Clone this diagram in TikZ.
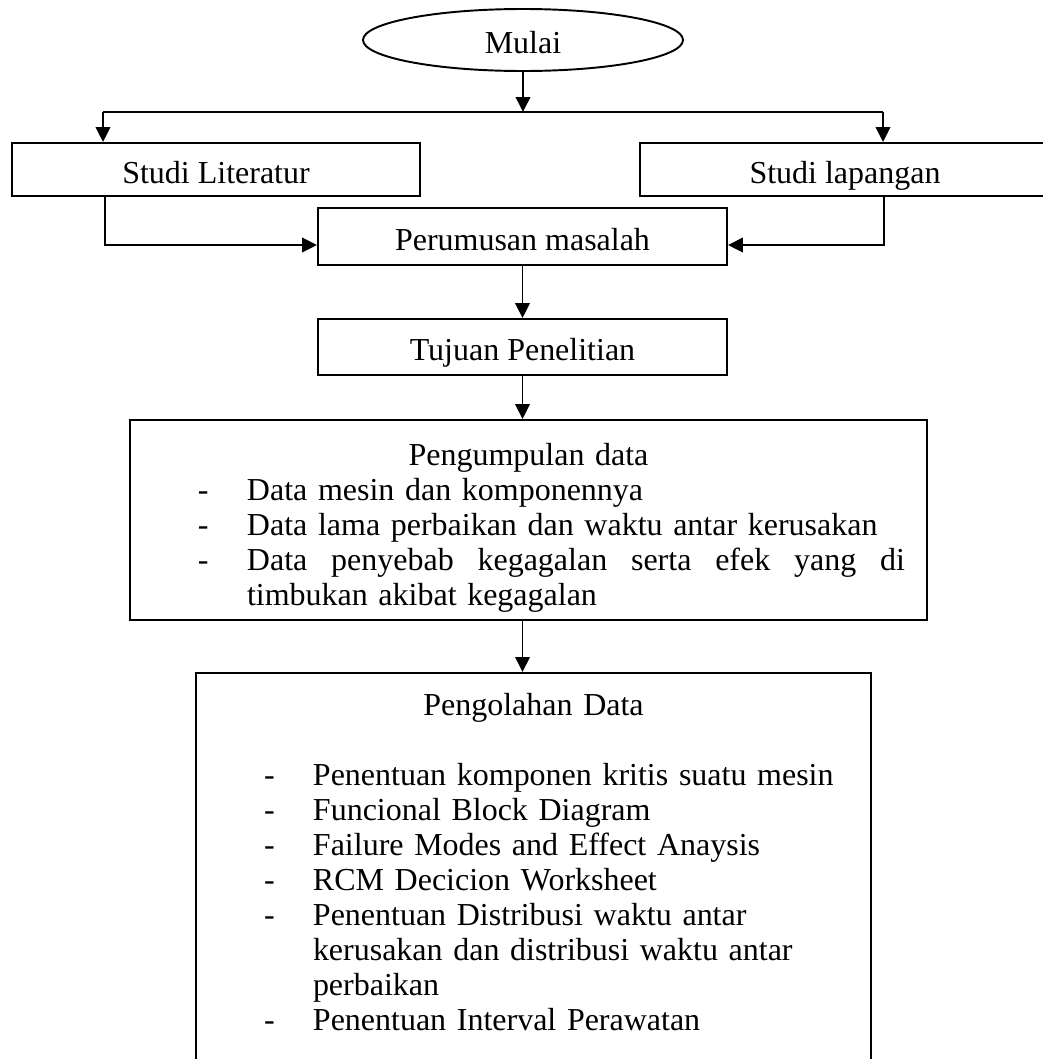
\documentclass[tikz,border=0pt]{standalone}
\usepackage{fontspec}
\setmainfont{Liberation Serif}
\usetikzlibrary{shapes.geometric, arrows.meta}
\newcommand{\butir}[1]{\par\hangindent=1.17cm\hangafter=1\noindent\hspace*{0.68cm}\makebox[0.49cm][l]{-}#1}

\begin{document}
\begin{tikzpicture}[>={Triangle[length=0.15cm,width=0.145cm]}, line width=0.55pt,
  kotak/.style={draw, rectangle, inner sep=0pt, font=\fontsize{9.1pt}{9.96pt}\selectfont},
  satu/.style={kotak, text height=0.3cm, text depth=0.03cm}]
  \useasboundingbox (0,0) rectangle (10.43,-10.59);
  % start and the two studies
  \node[satu, ellipse, minimum width=3.2cm, minimum height=0.62cm] (mulai) at (5.23,-0.40) {Mulai};
  \node[satu, minimum width=4.08cm, minimum height=0.53cm] (lit) at (2.16,-1.695) {Studi Literatur};
  \node[satu, minimum width=4.10cm, minimum height=0.53cm] (lap) at (8.45,-1.695) {Studi lapangan};
  \coordinate (fork) at (5.23,-1.12);
  \coordinate (forkL) at (1.03,-1.12);
  \coordinate (forkR) at (8.83,-1.12);
  \draw[->] (mulai.south) -- (fork);
  \draw (forkL) -- (forkR);
  \draw[->] (forkL) -- (forkL |- lit.north);
  \draw[->] (forkR) -- (forkR |- lap.north);
  % problem and goal
  \node[satu, minimum width=4.09cm, minimum height=0.57cm] (rum) at (5.225,-2.365) {Perumusan masalah};
  \node[satu, minimum width=4.09cm, minimum height=0.56cm] (tuj) at (5.225,-3.47) {Tujuan Penelitian};
  \draw[->] ([xshift=-1.11cm]lit.south) |- ([yshift=-0.085cm]rum.west);
  \draw[->] ([xshift=0.39cm]lap.south) |- ([yshift=-0.085cm]rum.east);
  \draw[->] (rum.south) -- (tuj.north);
  % data collection
  \node[kotak, text width=7.97cm, minimum height=2.0cm] (kum) at (5.285,-5.20) {
    {\noindent\centering\rule{0pt}{0.38cm}Pengumpulan data\par}
    \butir{Data mesin dan komponennya}
    \butir{Data lama perbaikan dan waktu antar kerusakan}
    \butir{\hbox to 6.58cm{Data\hfill penyebab\hfill kegagalan\hfill serta\hfill efek\hfill yang\hfill di}\newline timbukan akibat kegagalan}\par};
  \draw[->] (tuj.south) -- (tuj.south |- kum.north);
  % data processing
  \node[kotak, anchor=north, text width=6.75cm, inner ysep=0.2cm] (olah) at (5.335,-6.72) {
    {\noindent\centering Pengolahan Data\par}
    \noindent\mbox{}\par
    \butir{Penentuan komponen kritis suatu mesin}
    \butir{Funcional Block Diagram}
    \butir{Failure Modes and Effect Anaysis}
    \butir{RCM Decicion Worksheet}
    \butir{Penentuan Distribusi waktu antar\newline kerusakan dan distribusi waktu antar\newline perbaikan}
    \butir{Penentuan Interval Perawatan\rule[-0.6cm]{0pt}{0.6cm}}\par};
  \draw[->] (kum.south -| tuj.south) -- (tuj.south |- olah.north);
\end{tikzpicture}
\end{document}
